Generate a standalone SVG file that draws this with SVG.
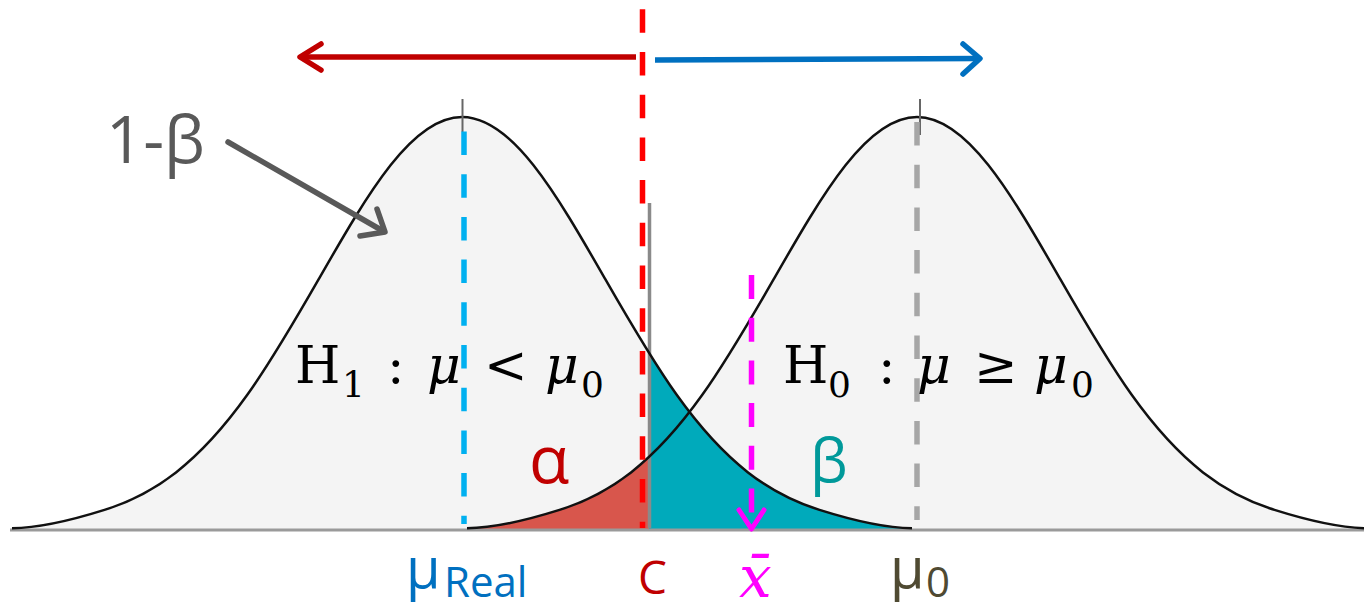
<svg xmlns="http://www.w3.org/2000/svg" width="1364" height="610" viewBox="0 0 1364 610">
<style>
.area{fill:#f4f4f4;stroke:none}
.curve{fill:none;stroke:#111;stroke-width:2.5}
.sans{font-family:"Open Sans","Noto Sans","DejaVu Sans",sans-serif}
.math{font-family:"DejaVu Serif","Liberation Serif",serif}
.it{font-style:italic}
.dash{fill:none;stroke-dasharray:23.5 19.2}
.arrow{fill:none;stroke-linecap:round;stroke-linejoin:round}
</style>
<defs>
<path id="gauss" d="M12,528.3 C45,527.8 80.67,517.42 104.5,509.9 C128.33,502.38 152.17,490.94 176,472.4 C199.83,453.86 223.67,427.96 247.5,394.6 C271.33,361.24 295.17,320.25 319,278.7 C342.83,237.15 366.67,195.53 390.5,165.3 C414.33,135.07 438.17,117 462,117 C485.83,117 509.67,135.07 533.5,165.3 C557.33,195.53 581.17,237.15 605,278.7 C628.83,320.25 652.67,361.24 676.5,394.6 C700.33,427.96 724.17,453.86 748,472.4 C771.83,490.94 795.67,502.38 819.5,509.9 C843.33,517.42 879,527.8 912,528.3"/>
<path id="gaussArea" d="M12,528.3 C45,527.8 80.67,517.42 104.5,509.9 C128.33,502.38 152.17,490.94 176,472.4 C199.83,453.86 223.67,427.96 247.5,394.6 C271.33,361.24 295.17,320.25 319,278.7 C342.83,237.15 366.67,195.53 390.5,165.3 C414.33,135.07 438.17,117 462,117 C485.83,117 509.67,135.07 533.5,165.3 C557.33,195.53 581.17,237.15 605,278.7 C628.83,320.25 652.67,361.24 676.5,394.6 C700.33,427.96 724.17,453.86 748,472.4 C771.83,490.94 795.67,502.38 819.5,509.9 C843.33,517.42 879,527.8 912,528.3 L912,529 L12,529 Z"/>
<clipPath id="clipAll"><rect x="10" y="0" width="1354" height="610"/></clipPath>
<clipPath id="clipL"><rect x="0" y="0" width="649" height="610"/></clipPath>
<clipPath id="clipR"><rect x="649" y="0" width="715" height="610"/></clipPath>
</defs>

<g id="distributions" clip-path="url(#clipAll)">
  <g id="h1-area"><use href="#gaussArea" class="area"/></g>
  <g id="h0-area"><use href="#gaussArea" class="area" transform="translate(455,0)"/></g>
  <g id="alpha-region" clip-path="url(#clipL)"><use href="#gaussArea" transform="translate(455,0)" fill="#d8564c"/></g>
  <g id="beta-region" clip-path="url(#clipR)"><use href="#gaussArea" fill="#00aabb"/></g>
  <g id="baseline"><line x1="10" y1="530" x2="1364" y2="530" stroke="#9a9a9a" stroke-width="3"/></g>
  <g id="c-line"><line x1="649.5" y1="203" x2="649.5" y2="528" stroke="#8a8a8a" stroke-width="3.5"/></g>
  <g id="h1-curve"><use href="#gauss" class="curve"/></g>
  <g id="h0-curve"><use href="#gauss" class="curve" transform="translate(455,0)"/></g>
</g>

<g id="connectors">
  <line x1="462.5" y1="99" x2="462.5" y2="132" stroke="#666" stroke-width="2"/>
  <line x1="920" y1="99" x2="920" y2="135" stroke="#666" stroke-width="2"/>
  <line class="dash" x1="464" y1="131.5" x2="464" y2="524" stroke="#00b0f0" stroke-width="5.5"/>
  <line class="dash" x1="917" y1="122" x2="917" y2="520" stroke="#a6a6a6" stroke-width="5.5"/>
  <line class="dash" x1="642.5" y1="9.3" x2="642.5" y2="528" stroke="#ff0000" stroke-width="5.5"/>
  <line x1="751.5" y1="275" x2="751.5" y2="527" stroke="#ff00ff" stroke-width="5.5" stroke-dasharray="24 18.7"/>
  <polyline class="arrow" points="739,510 751.5,529 764,510" stroke="#ff00ff" stroke-width="5"/>
  <line x1="302" y1="57" x2="636" y2="57" stroke="#c00000" stroke-width="5.5"/>
  <polyline class="arrow" points="321,44 300,57 321,70" stroke="#c00000" stroke-width="5.5"/>
  <line x1="655" y1="60" x2="978" y2="58.5" stroke="#0070c0" stroke-width="5.5"/>
  <polyline class="arrow" points="963,44 980,58.5 963,74" stroke="#0070c0" stroke-width="5.5"/>
  <line x1="228" y1="142" x2="383" y2="231" stroke="#595959" stroke-width="5.5" stroke-linecap="round"/>
  <polyline class="arrow" points="377,209 385,232 360,236" stroke="#595959" stroke-width="5.5"/>
</g>

<g id="labels">
  <text id="power" class="sans" x="106" y="163" font-size="65" fill="#595959">1-β</text>
  <text id="h1" class="math" font-size="52" fill="#000"><tspan x="295" y="383">H</tspan><tspan x="342" y="397" font-size="36">1</tspan><tspan x="387" y="383">:</tspan><tspan class="it" x="427" y="383">μ</tspan><tspan x="484" y="383">&lt;</tspan><tspan class="it" x="545" y="383">μ</tspan><tspan x="581" y="397" font-size="36">0</tspan></text>
  <text id="h0" class="math" font-size="52" fill="#000"><tspan x="783" y="383">H</tspan><tspan x="828" y="397" font-size="36">0</tspan><tspan x="878" y="383">:</tspan><tspan class="it" x="917" y="383">μ</tspan><tspan x="974" y="383">≥</tspan><tspan class="it" x="1034" y="383">μ</tspan><tspan x="1071" y="397" font-size="36">0</tspan></text>
  <text id="alpha" class="sans" x="529" y="483" font-size="66" fill="#c00000">α</text>
  <text id="beta" class="sans" x="810" y="482" font-size="60" fill="#00999a">β</text>
  <text id="mu-real" class="sans" fill="#0070c0"><tspan x="406" y="588" font-size="56">μ</tspan><tspan x="444" y="597" font-size="42">Real</tspan></text>
  <text id="c" class="sans" x="638" y="594" font-size="46" fill="#c00000">C</text>
  <text id="xbar" class="math it" x="739" y="597" font-size="58" fill="#ff00ff">x̄</text>
  <text id="mu0" class="sans" fill="#4f4a32"><tspan x="890" y="588" font-size="56">μ</tspan><tspan x="926" y="597" font-size="42">0</tspan></text>
</g>
</svg>
